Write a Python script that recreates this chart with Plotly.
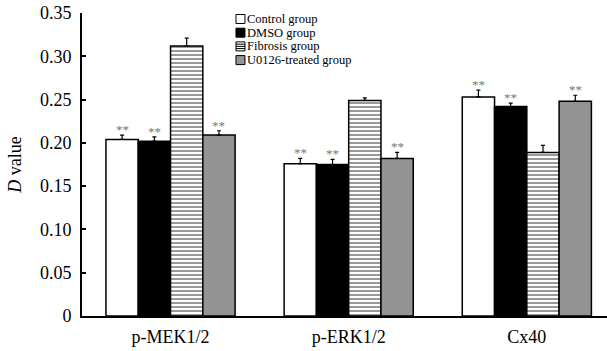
import plotly.graph_objects as go

categories = ["p-MEK1/2", "p-ERK1/2", "Cx40"]
groups = ["Control group", "DMSO group", "Fibrosis group", "U0126-treated group"]
values = {
    "Control group": [0.204, 0.176, 0.253],
    "DMSO group": [0.202, 0.175, 0.242],
    "Fibrosis group": [0.312, 0.249, 0.189],
    "U0126-treated group": [0.209, 0.182, 0.248],
}
errors = {
    "Control group": [0.005, 0.006, 0.008],
    "DMSO group": [0.005, 0.006, 0.004],
    "Fibrosis group": [0.009, 0.003, 0.008],
    "U0126-treated group": [0.005, 0.007, 0.007],
}
stars = {
    "Control group": ["**", "**", "**"],
    "DMSO group": ["**", "**", "**"],
    "Fibrosis group": ["", "", ""],
    "U0126-treated group": ["**", "**", "**"],
}
ytick_vals = [0, 0.05, 0.10, 0.15, 0.20, 0.25, 0.30, 0.35]
ytick_text = ["0", "0.05", "0.10", "0.15", "0.20", "0.25", "0.30", "0.35"]

FONT = "Liberation Serif"
GRAY = "#939393"
styles = {
    "Control group": dict(color="white"),
    "DMSO group": dict(color="black"),
    "Fibrosis group": dict(color="white",
                           pattern=dict(shape="-", fgcolor="black", bgcolor="white",
                                        size=4, solidity=0.4, fillmode="overlay")),
    "U0126-treated group": dict(color=GRAY),
}
legend_fill = {"Control group": "white", "DMSO group": "black",
               "Fibrosis group": "white", "U0126-treated group": GRAY}

bargap = 0.275
fig = go.Figure()
for g in groups:
    fig.add_trace(go.Bar(
        name=g, x=categories, y=values[g], showlegend=False,
        marker=dict(line=dict(color="black", width=1.5), **styles[g]),
        error_y=dict(type="data", array=errors[g], symmetric=False,
                     arrayminus=[0] * len(categories),
                     color="black", thickness=1.2, width=2),
    ))

bw = (1 - bargap) / len(groups)
for gi, g in enumerate(groups):
    off = (gi - (len(groups) - 1) / 2) * bw
    for ci, c in enumerate(categories):
        if stars[g][ci]:
            fig.add_annotation(x=ci + off, y=values[g][ci] + errors[g][ci],
                               text=stars[g][ci], showarrow=False, yanchor="bottom",
                               yshift=-4,
                               font=dict(family=FONT, size=13, color="#777777"))

# compact legend (squares + text)
lx, ly, dy = 0.2933, 0.9802, 0.0452
for i, g in enumerate(groups):
    yy = ly - i * dy
    fig.add_shape(type="rect", xref="paper", yref="paper",
                  xsizemode="pixel", ysizemode="pixel", xanchor=lx, yanchor=yy,
                  x0=0, x1=9, y0=-4.5, y1=4.5,
                  fillcolor=legend_fill[g], line=dict(color="black", width=1))
    if g == "Fibrosis group":
        for o in (-2.2, 0, 2.2):
            fig.add_shape(type="line", xref="paper", yref="paper",
                          xsizemode="pixel", ysizemode="pixel", xanchor=lx, yanchor=yy,
                          x0=0, x1=9, y0=o, y1=o, line=dict(color="black", width=1))
    fig.add_annotation(xref="paper", yref="paper", x=lx, y=yy, xshift=10,
                       xanchor="left", yanchor="middle", showarrow=False, text=g,
                       borderpad=0,
                       font=dict(family=FONT, size=12.5, color="black"))

fig.update_layout(
    width=607, height=351,
    margin=dict(l=82, r=0, t=13, b=35),
    paper_bgcolor="white", plot_bgcolor="white",
    barmode="group", bargap=bargap, bargroupgap=0,
    font=dict(family=FONT, size=18, color="black"),
    showlegend=False,
)
fig.update_xaxes(type="category", range=[-0.497, 2.45],
                 showline=True, linecolor="black", linewidth=2,
                 ticks="", showgrid=False, zeroline=False,
                 ticklabelstandoff=3,
                 tickfont=dict(family=FONT, size=18))
fig.update_yaxes(range=[0, 0.35], tickvals=ytick_vals, ticktext=ytick_text,
                 showline=True, linecolor="black", linewidth=2,
                 ticks="inside", ticklen=4, tickwidth=1.5, tickcolor="black",
                 ticklabelstandoff=5,
                 showgrid=False, zeroline=False,
                 tickfont=dict(family=FONT, size=18),
                 title=dict(text="<i>D</i> value", font=dict(family=FONT, size=18),
                            standoff=14))

fig.write_html("out.html", config={"displayModeBar": False},
               post_script="document.body.style.margin='0';")
